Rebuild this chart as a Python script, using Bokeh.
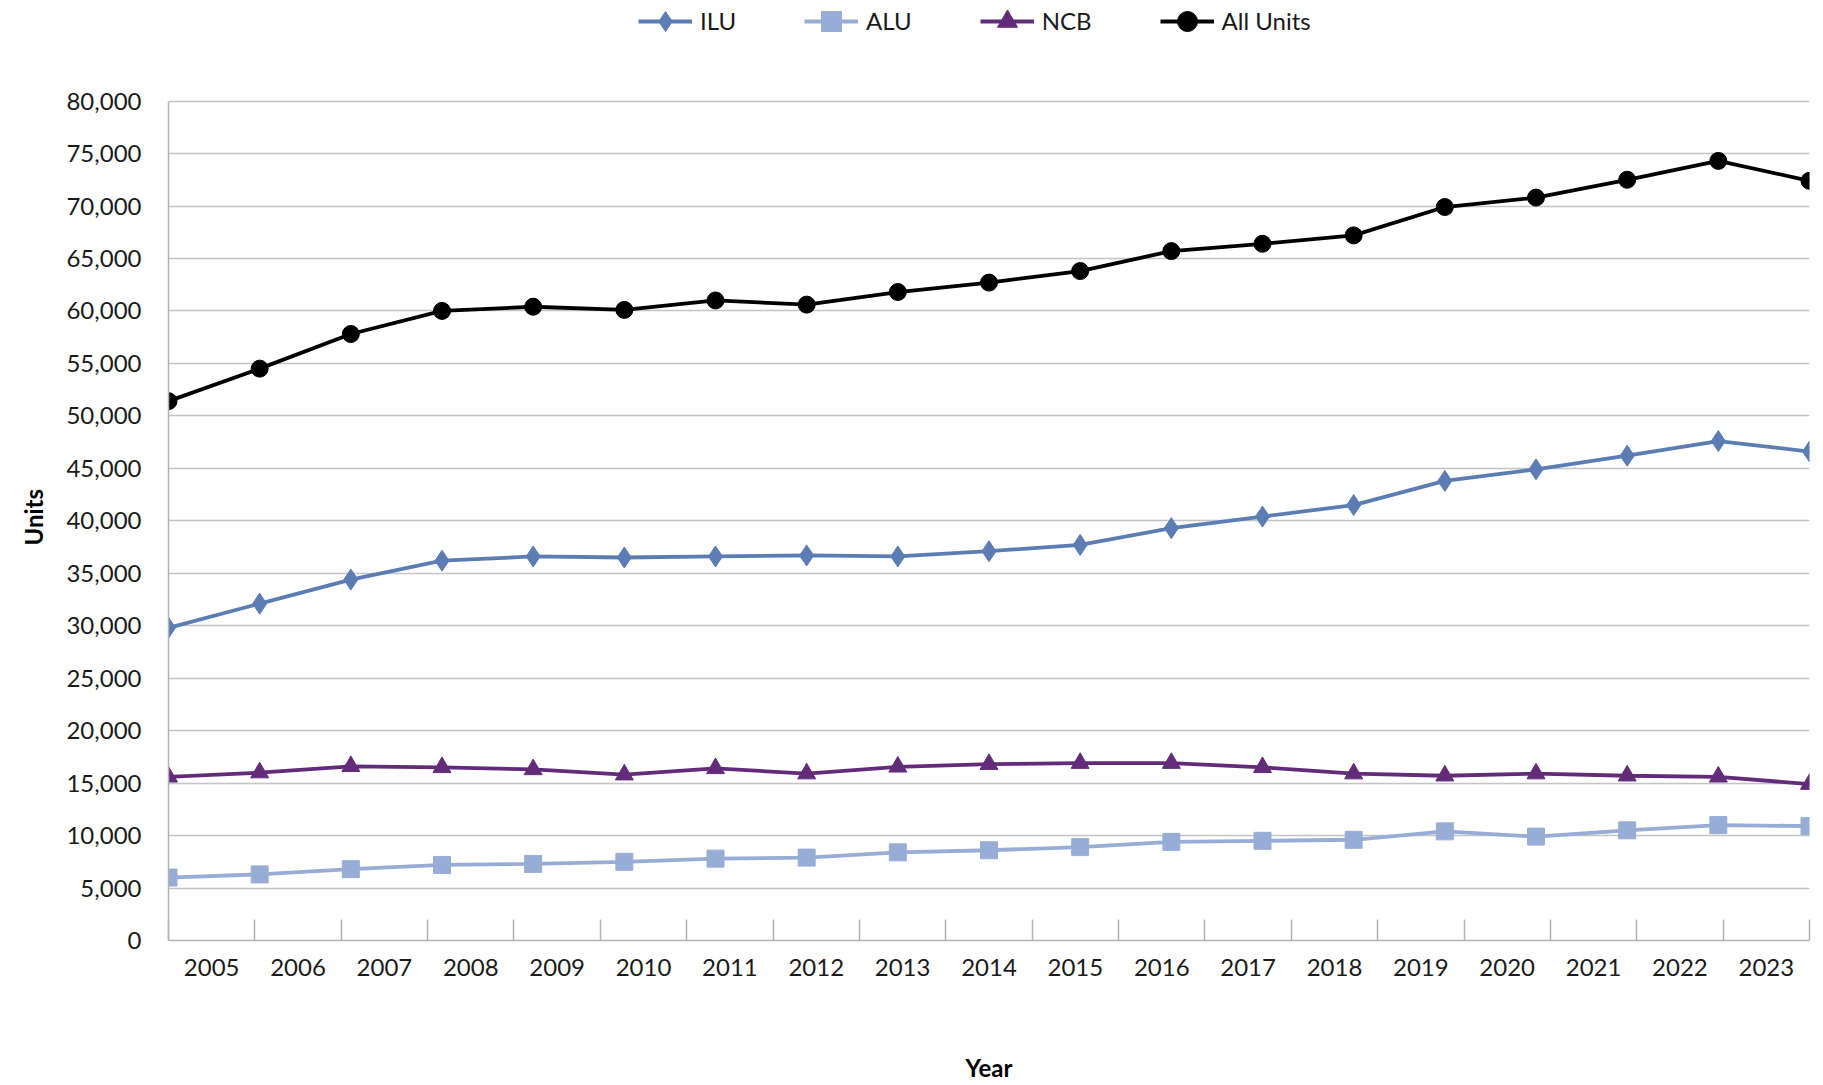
from bokeh.plotting import figure
from bokeh.models import (Range1d, FixedTicker, NumeralTickFormatter, Legend, LegendItem, Title)
from bokeh.embed import file_html
from bokeh.resources import INLINE

years = list(range(2005, 2024))
ilu = [29800, 32100, 34400, 36200, 36600, 36500, 36600, 36700, 36600, 37100,
       37700, 39300, 40400, 41500, 43800, 44900, 46200, 47600, 46600]
alu = [6000, 6300, 6800, 7200, 7300, 7500, 7800, 7900, 8400, 8600,
       8900, 9400, 9500, 9600, 10400, 9900, 10500, 11000, 10900]
ncb = [15600, 16000, 16600, 16500, 16300, 15800, 16400, 15900, 16550, 16800,
       16900, 16900, 16500, 15900, 15700, 15900, 15700, 15600, 14900]
all_units = [51400, 54500, 57800, 60000, 60400, 60100, 61000, 60600, 61800, 62700,
             63800, 65700, 66400, 67200, 69900, 70800, 72500, 74300, 72400]
y_ticks = list(range(0, 80001, 5000))

FONT = "Lato"
TXT = "#1a1a1a"
GRID = "#c4c4c4"

W, H = 1818, 1084
BORDER_BOTTOM = 140
FRAME_H = H - BORDER_BOTTOM          # frame starts at the top of the canvas
AXIS_TOP_PX = 101                    # where the 80,000 line sits
y_max = y_ticks[-1]
y_end = y_max * FRAME_H / (FRAME_H - AXIS_TOP_PX)   # leaves headroom for the legend

n = len(years)
lo, hi = years[0] - 0.5, years[-1] + 0.5
# points are spread across the full plot width (first at left edge, last at right edge)
xs = [lo + i * (hi - lo) / (n - 1) for i in range(n)]
edges = [lo + k for k in range(n + 1)]

p = figure(width=W, height=H, output_backend="svg", toolbar_location=None,
           x_range=Range1d(lo, hi), y_range=Range1d(0, y_end),
           min_border_left=167, min_border_right=9, min_border_top=0,
           min_border_bottom=BORDER_BOTTOM)
p.outline_line_color = None
p.background_fill_color = "white"

series = [
    ("ILU", ilu, "#5b7db3", "diamond", 21),
    ("ALU", alu, "#98add6", "square", 17),
    ("NCB", ncb, "#632c7b", "triangle", 18),
    ("All Units", all_units, "#000000", "circle", 17),
]
items = []
for name, vals, col, mk, sz in series:
    ln = p.line(xs, vals, line_color=col, line_width=3.8)
    sc = p.scatter(xs, vals, marker=mk, size=sz, fill_color=col, line_color=col)
    items.append(LegendItem(label=name, renderers=[ln, sc]))

GH = 50
legend = Legend(items=items, orientation="horizontal",
                location=(470, FRAME_H - GH + 0.5),
                glyph_width=54, glyph_height=GH, label_standoff=8, spacing=68,
                padding=0, margin=0, border_line_color=None,
                background_fill_alpha=0,
                label_text_font=FONT, label_text_font_size="24px",
                label_text_color=TXT)
p.add_layout(legend, "center")

# y axis
p.yaxis.bounds = (0, y_max)
p.yaxis.ticker = FixedTicker(ticks=y_ticks)
p.yaxis.formatter = NumeralTickFormatter(format="0,0")
p.yaxis.major_tick_in = 0
p.yaxis.major_tick_out = 0
p.yaxis.minor_tick_in = 0
p.yaxis.minor_tick_out = 0
p.yaxis.major_label_standoff = 27
p.yaxis.axis_line_color = "#b3b3b3"
p.yaxis.axis_line_width = 1.5
p.yaxis.major_label_text_font = FONT
p.yaxis.major_label_text_font_size = "24px"
p.yaxis.major_label_text_color = TXT

# y axis title, centred on the 0..80,000 span (offset measured up from the frame bottom)
p.add_layout(Title(text="Units", align="left", offset=395, standoff=32,
                   text_font=FONT, text_font_style="bold", text_font_size="24px",
                   text_color="#000000"), "left")

# x axis: labels at category centres, tick marks at category edges
p.xaxis.ticker = FixedTicker(ticks=years, minor_ticks=edges)
p.xaxis.major_label_overrides = {y: str(y) for y in years}
p.xaxis.major_tick_in = 0
p.xaxis.major_tick_out = 0
p.xaxis.minor_tick_in = 21
p.xaxis.minor_tick_out = 0
p.xaxis.minor_tick_line_color = "#b3b3b3"
p.xaxis.minor_tick_line_width = 1.5
p.xaxis.axis_line_color = "#b3b3b3"
p.xaxis.axis_line_width = 1.5
p.xaxis.major_label_standoff = 18
p.xaxis.major_label_text_font = FONT
p.xaxis.major_label_text_font_size = "24px"
p.xaxis.major_label_text_color = TXT
p.xaxis.axis_label = "Year"
p.xaxis.axis_label_text_font = FONT
p.xaxis.axis_label_text_font_style = "bold"
p.xaxis.axis_label_text_font_size = "24px"
p.xaxis.axis_label_text_color = "#000000"
p.xaxis.axis_label_standoff = 74

p.xgrid.grid_line_color = None
p.ygrid.ticker = FixedTicker(ticks=y_ticks)
p.ygrid.grid_line_color = GRID
p.ygrid.grid_line_width = 1.5

open("out.html", "w").write(file_html(p, INLINE))
